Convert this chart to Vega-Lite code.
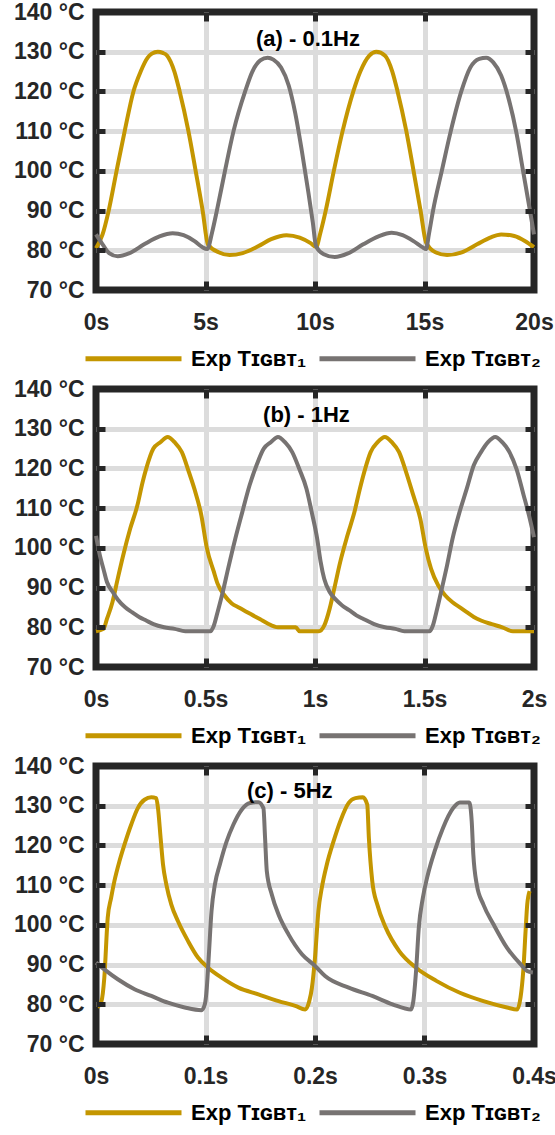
{
  "$schema": "https://vega.github.io/schema/vega-lite/v6.json",
  "background": "white",
  "padding": {"left": 9, "right": 4, "top": -3, "bottom": 0},
  "spacing": 0,
  "resolve": {"scale": {"color": "independent", "x": "independent", "y": "independent"}, "legend": {"color": "independent"}},
  "config": {
    "font": "Liberation Sans",
    "view": {"stroke": "#262626", "strokeWidth": 7},
    "axis": {"title": null, "domain": false, "labelFont": "Liberation Sans", "labelFontSize": 23, "labelFontWeight": "bold", "labelColor": "#262626", "tickColor": "#262626", "tickWidth": 5, "tickSize": 9, "offset": -9, "labelPadding": 12, "gridColor": "#DCDCDC", "gridWidth": 5, "gridOpacity": 1, "labelFlush": false, "labelOverlap": false},
    "axisX": {"labelPadding": 21},
    "legend": {"orient": "bottom", "direction": "horizontal", "title": null, "symbolType": "M-2.3,0H7.3", "symbolSize": 400, "symbolStrokeWidth": 5, "labelFont": "Liberation Sans", "labelFontSize": 22, "labelFontWeight": "bold", "labelColor": "black", "labelOffset": 70, "columnPadding": 2, "offset": 12, "labelLimit": 400, "padding": 0}
  },
  "datasets": {
    "a": [
      {"t":0,"T":80.5,"s":"1"},{"t":0.3,"T":84,"s":"1"},{"t":0.58,"T":90,"s":"1"},{"t":0.94,"T":100,"s":"1"},{"t":1.31,"T":110,"s":"1"},{"t":1.71,"T":120,"s":"1"},{"t":2.04,"T":125,"s":"1"},{"t":2.36,"T":128.5,"s":"1"},{"t":2.55,"T":129.5,"s":"1"},{"t":2.82,"T":130,"s":"1"},{"t":3.05,"T":129.7,"s":"1"},{"t":3.25,"T":129,"s":"1"},{"t":3.58,"T":125,"s":"1"},{"t":3.82,"T":120,"s":"1"},{"t":4.22,"T":110,"s":"1"},{"t":4.55,"T":100,"s":"1"},{"t":4.87,"T":90,"s":"1"},{"t":5.11,"T":81.5,"s":"1"},{"t":5.6,"T":79.5,"s":"1"},{"t":6.1,"T":78.8,"s":"1"},{"t":6.7,"T":79.3,"s":"1"},{"t":7.4,"T":81,"s":"1"},{"t":8.0,"T":82.8,"s":"1"},{"t":8.7,"T":83.8,"s":"1"},{"t":9.3,"T":83.2,"s":"1"},{"t":9.8,"T":81.8,"s":"1"},{"t":10.05,"T":80.8,"s":"1"},{"t":10.25,"T":84.5,"s":"1"},{"t":10.49,"T":90,"s":"1"},{"t":10.86,"T":100,"s":"1"},{"t":11.26,"T":110,"s":"1"},{"t":11.75,"T":120,"s":"1"},{"t":12.07,"T":125,"s":"1"},{"t":12.48,"T":129,"s":"1"},{"t":12.8,"T":130,"s":"1"},{"t":13.2,"T":129,"s":"1"},{"t":13.53,"T":125,"s":"1"},{"t":13.77,"T":120,"s":"1"},{"t":14.17,"T":110,"s":"1"},{"t":14.5,"T":100,"s":"1"},{"t":14.82,"T":90,"s":"1"},{"t":15.07,"T":82,"s":"1"},{"t":15.5,"T":79.5,"s":"1"},{"t":16.03,"T":78.8,"s":"1"},{"t":16.7,"T":79.5,"s":"1"},{"t":17.4,"T":81.5,"s":"1"},{"t":18.0,"T":83.2,"s":"1"},{"t":18.5,"T":84,"s":"1"},{"t":19.1,"T":83.6,"s":"1"},{"t":19.6,"T":82.3,"s":"1"},{"t":20,"T":80.8,"s":"1"},
      {"t":0,"T":84,"s":"2"},{"t":0.3,"T":81.5,"s":"2"},{"t":0.6,"T":79.3,"s":"2"},{"t":0.99,"T":78.5,"s":"2"},{"t":1.5,"T":79.2,"s":"2"},{"t":2.2,"T":81.5,"s":"2"},{"t":2.9,"T":83.5,"s":"2"},{"t":3.5,"T":84.3,"s":"2"},{"t":4.0,"T":83.8,"s":"2"},{"t":4.5,"T":82.3,"s":"2"},{"t":4.85,"T":80.8,"s":"2"},{"t":5.08,"T":80.3,"s":"2"},{"t":5.3,"T":84.5,"s":"2"},{"t":5.52,"T":90,"s":"2"},{"t":5.89,"T":100,"s":"2"},{"t":6.28,"T":110,"s":"2"},{"t":6.81,"T":120,"s":"2"},{"t":7.14,"T":125,"s":"2"},{"t":7.5,"T":127.8,"s":"2"},{"t":7.84,"T":128.5,"s":"2"},{"t":8.1,"T":128,"s":"2"},{"t":8.45,"T":126,"s":"2"},{"t":8.8,"T":121.5,"s":"2"},{"t":9.1,"T":114.5,"s":"2"},{"t":9.4,"T":105,"s":"2"},{"t":9.7,"T":94.5,"s":"2"},{"t":9.9,"T":87,"s":"2"},{"t":10.05,"T":81,"s":"2"},{"t":10.4,"T":79,"s":"2"},{"t":10.9,"T":78.3,"s":"2"},{"t":11.5,"T":79.2,"s":"2"},{"t":12.2,"T":81.5,"s":"2"},{"t":12.9,"T":83.5,"s":"2"},{"t":13.5,"T":84.4,"s":"2"},{"t":14.0,"T":83.8,"s":"2"},{"t":14.5,"T":82.3,"s":"2"},{"t":14.9,"T":80.8,"s":"2"},{"t":15.07,"T":80.3,"s":"2"},{"t":15.2,"T":84,"s":"2"},{"t":15.39,"T":90,"s":"2"},{"t":15.79,"T":100,"s":"2"},{"t":16.2,"T":110,"s":"2"},{"t":16.68,"T":120,"s":"2"},{"t":17.09,"T":126,"s":"2"},{"t":17.5,"T":128.2,"s":"2"},{"t":17.82,"T":128.5,"s":"2"},{"t":18.14,"T":127.3,"s":"2"},{"t":18.5,"T":124,"s":"2"},{"t":18.85,"T":118,"s":"2"},{"t":19.2,"T":109.5,"s":"2"},{"t":19.5,"T":100,"s":"2"},{"t":19.8,"T":90.5,"s":"2"},{"t":20,"T":84,"s":"2"}
    ],
    "b": [
      {"t":0,"T":79,"s":"1"},{"t":0.034,"T":79.6,"s":"1"},{"t":0.05,"T":82.1,"s":"1"},{"t":0.075,"T":86.3,"s":"1"},{"t":0.099,"T":92.2,"s":"1"},{"t":0.124,"T":98.1,"s":"1"},{"t":0.156,"T":104.8,"s":"1"},{"t":0.189,"T":110.7,"s":"1"},{"t":0.213,"T":116.6,"s":"1"},{"t":0.229,"T":119.9,"s":"1"},{"t":0.262,"T":125,"s":"1"},{"t":0.294,"T":126.6,"s":"1"},{"t":0.327,"T":127.9,"s":"1"},{"t":0.359,"T":126.6,"s":"1"},{"t":0.392,"T":124.1,"s":"1"},{"t":0.424,"T":119.1,"s":"1"},{"t":0.449,"T":114.9,"s":"1"},{"t":0.481,"T":108.2,"s":"1"},{"t":0.506,"T":100,"s":"1"},{"t":0.538,"T":94,"s":"1"},{"t":0.555,"T":91,"s":"1"},{"t":0.587,"T":88,"s":"1"},{"t":0.62,"T":86,"s":"1"},{"t":0.652,"T":85,"s":"1"},{"t":0.684,"T":84,"s":"1"},{"t":0.717,"T":83,"s":"1"},{"t":0.75,"T":82,"s":"1"},{"t":0.782,"T":81,"s":"1"},{"t":0.831,"T":80,"s":"1"},{"t":0.912,"T":80,"s":"1"},{"t":0.93,"T":79,"s":"1"},{"t":1.018,"T":79,"s":"1"},{"t":1.042,"T":80.4,"s":"1"},{"t":1.067,"T":84.7,"s":"1"},{"t":1.091,"T":90.5,"s":"1"},{"t":1.115,"T":96.4,"s":"1"},{"t":1.148,"T":103.1,"s":"1"},{"t":1.18,"T":109,"s":"1"},{"t":1.205,"T":114.9,"s":"1"},{"t":1.229,"T":119.9,"s":"1"},{"t":1.254,"T":124.1,"s":"1"},{"t":1.286,"T":126.6,"s":"1"},{"t":1.319,"T":127.9,"s":"1"},{"t":1.351,"T":126.6,"s":"1"},{"t":1.384,"T":124.1,"s":"1"},{"t":1.416,"T":119.1,"s":"1"},{"t":1.449,"T":113.2,"s":"1"},{"t":1.481,"T":107.3,"s":"1"},{"t":1.506,"T":99.8,"s":"1"},{"t":1.53,"T":94.7,"s":"1"},{"t":1.563,"T":90.5,"s":"1"},{"t":1.595,"T":88,"s":"1"},{"t":1.628,"T":86.3,"s":"1"},{"t":1.66,"T":85.1,"s":"1"},{"t":1.693,"T":83.8,"s":"1"},{"t":1.725,"T":82.6,"s":"1"},{"t":1.758,"T":81.7,"s":"1"},{"t":1.807,"T":80.8,"s":"1"},{"t":1.855,"T":80,"s":"1"},{"t":1.904,"T":79,"s":"1"},{"t":2.0,"T":79,"s":"1"},
      {"t":0,"T":103,"s":"2"},{"t":0.018,"T":98,"s":"2"},{"t":0.034,"T":94.7,"s":"2"},{"t":0.05,"T":91.4,"s":"2"},{"t":0.075,"T":89,"s":"2"},{"t":0.099,"T":87,"s":"2"},{"t":0.132,"T":85.1,"s":"2"},{"t":0.164,"T":83.8,"s":"2"},{"t":0.197,"T":82.6,"s":"2"},{"t":0.229,"T":81.7,"s":"2"},{"t":0.262,"T":80.8,"s":"2"},{"t":0.311,"T":80,"s":"2"},{"t":0.359,"T":79.6,"s":"2"},{"t":0.408,"T":79,"s":"2"},{"t":0.522,"T":79,"s":"2"},{"t":0.538,"T":80.4,"s":"2"},{"t":0.555,"T":83.8,"s":"2"},{"t":0.579,"T":88.9,"s":"2"},{"t":0.603,"T":94.7,"s":"2"},{"t":0.636,"T":102.3,"s":"2"},{"t":0.668,"T":109,"s":"2"},{"t":0.701,"T":115.7,"s":"2"},{"t":0.733,"T":120.8,"s":"2"},{"t":0.766,"T":125,"s":"2"},{"t":0.798,"T":126.6,"s":"2"},{"t":0.831,"T":127.9,"s":"2"},{"t":0.863,"T":126.6,"s":"2"},{"t":0.896,"T":124.1,"s":"2"},{"t":0.928,"T":119.9,"s":"2"},{"t":0.961,"T":114.9,"s":"2"},{"t":0.985,"T":109,"s":"2"},{"t":1.01,"T":102.3,"s":"2"},{"t":1.026,"T":96.4,"s":"2"},{"t":1.042,"T":92.2,"s":"2"},{"t":1.067,"T":88.9,"s":"2"},{"t":1.091,"T":87.2,"s":"2"},{"t":1.124,"T":85.5,"s":"2"},{"t":1.156,"T":84.3,"s":"2"},{"t":1.189,"T":83,"s":"2"},{"t":1.221,"T":82.1,"s":"2"},{"t":1.27,"T":80.8,"s":"2"},{"t":1.319,"T":80,"s":"2"},{"t":1.367,"T":79.6,"s":"2"},{"t":1.408,"T":79,"s":"2"},{"t":1.522,"T":79,"s":"2"},{"t":1.538,"T":80.4,"s":"2"},{"t":1.554,"T":83.8,"s":"2"},{"t":1.579,"T":89.7,"s":"2"},{"t":1.603,"T":95.6,"s":"2"},{"t":1.628,"T":102.3,"s":"2"},{"t":1.66,"T":109,"s":"2"},{"t":1.693,"T":114.9,"s":"2"},{"t":1.725,"T":120.8,"s":"2"},{"t":1.758,"T":124.1,"s":"2"},{"t":1.79,"T":126.6,"s":"2"},{"t":1.823,"T":127.9,"s":"2"},{"t":1.855,"T":126.6,"s":"2"},{"t":1.888,"T":124.1,"s":"2"},{"t":1.92,"T":119.9,"s":"2"},{"t":1.953,"T":113.2,"s":"2"},{"t":1.977,"T":108.2,"s":"2"},{"t":2.0,"T":102.7,"s":"2"}
    ],
    "c": [
      {"t":0.0015,"T":79.3,"s":"1"},{"t":0.005,"T":80.8,"s":"1"},{"t":0.0076,"T":86.7,"s":"1"},{"t":0.0107,"T":101.8,"s":"1"},{"t":0.0138,"T":106.8,"s":"1"},{"t":0.0168,"T":111,"s":"1"},{"t":0.0214,"T":116,"s":"1"},{"t":0.026,"T":120.2,"s":"1"},{"t":0.0321,"T":125.2,"s":"1"},{"t":0.0382,"T":129.4,"s":"1"},{"t":0.0443,"T":131.5,"s":"1"},{"t":0.0505,"T":132.1,"s":"1"},{"t":0.055,"T":131.9,"s":"1"},{"t":0.0566,"T":129.4,"s":"1"},{"t":0.059,"T":121.9,"s":"1"},{"t":0.0612,"T":115.2,"s":"1"},{"t":0.0642,"T":110.2,"s":"1"},{"t":0.0688,"T":105.1,"s":"1"},{"t":0.0749,"T":100.9,"s":"1"},{"t":0.0841,"T":95.9,"s":"1"},{"t":0.0933,"T":91.7,"s":"1"},{"t":0.1024,"T":89.2,"s":"1"},{"t":0.1147,"T":86.7,"s":"1"},{"t":0.13,"T":84.2,"s":"1"},{"t":0.1483,"T":82.5,"s":"1"},{"t":0.1667,"T":80.8,"s":"1"},{"t":0.182,"T":79.6,"s":"1"},{"t":0.1911,"T":78.7,"s":"1"},{"t":0.1948,"T":80.8,"s":"1"},{"t":0.1972,"T":84.2,"s":"1"},{"t":0.2,"T":91.7,"s":"1"},{"t":0.2031,"T":103.5,"s":"1"},{"t":0.2062,"T":109.3,"s":"1"},{"t":0.2108,"T":115.2,"s":"1"},{"t":0.2169,"T":121,"s":"1"},{"t":0.2231,"T":126.1,"s":"1"},{"t":0.2308,"T":130.7,"s":"1"},{"t":0.2369,"T":131.9,"s":"1"},{"t":0.2437,"T":132.1,"s":"1"},{"t":0.2477,"T":130.3,"s":"1"},{"t":0.2492,"T":121.9,"s":"1"},{"t":0.2523,"T":111,"s":"1"},{"t":0.2569,"T":105.1,"s":"1"},{"t":0.2646,"T":99.3,"s":"1"},{"t":0.2769,"T":93.4,"s":"1"},{"t":0.2923,"T":89.2,"s":"1"},{"t":0.3108,"T":85.9,"s":"1"},{"t":0.3323,"T":82.9,"s":"1"},{"t":0.3538,"T":80.8,"s":"1"},{"t":0.3754,"T":79.2,"s":"1"},{"t":0.3846,"T":78.7,"s":"1"},{"t":0.3877,"T":81.7,"s":"1"},{"t":0.3902,"T":88.4,"s":"1"},{"t":0.3923,"T":98.4,"s":"1"},{"t":0.3938,"T":105.1,"s":"1"},{"t":0.396,"T":108.5,"s":"1"},
      {"t":0,"T":90.5,"s":"2"},{"t":0.0076,"T":88.8,"s":"2"},{"t":0.0199,"T":86.3,"s":"2"},{"t":0.0352,"T":83.8,"s":"2"},{"t":0.0505,"T":82.1,"s":"2"},{"t":0.0657,"T":80.4,"s":"2"},{"t":0.081,"T":79.2,"s":"2"},{"t":0.0963,"T":78.5,"s":"2"},{"t":0.0994,"T":80,"s":"2"},{"t":0.1012,"T":84.2,"s":"2"},{"t":0.1031,"T":92.6,"s":"2"},{"t":0.1055,"T":103.5,"s":"2"},{"t":0.1086,"T":110.2,"s":"2"},{"t":0.1131,"T":115.2,"s":"2"},{"t":0.1193,"T":121,"s":"2"},{"t":0.1254,"T":125.2,"s":"2"},{"t":0.133,"T":129,"s":"2"},{"t":0.1407,"T":130.7,"s":"2"},{"t":0.1483,"T":130.9,"s":"2"},{"t":0.1529,"T":129.4,"s":"2"},{"t":0.1544,"T":121.9,"s":"2"},{"t":0.156,"T":113.5,"s":"2"},{"t":0.1606,"T":107.6,"s":"2"},{"t":0.1667,"T":102.6,"s":"2"},{"t":0.1758,"T":97.6,"s":"2"},{"t":0.1881,"T":92.6,"s":"2"},{"t":0.2003,"T":89.6,"s":"2"},{"t":0.2092,"T":87.1,"s":"2"},{"t":0.2308,"T":84.2,"s":"2"},{"t":0.2523,"T":82.1,"s":"2"},{"t":0.2708,"T":80,"s":"2"},{"t":0.2877,"T":78.7,"s":"2"},{"t":0.2898,"T":80.8,"s":"2"},{"t":0.2923,"T":88.4,"s":"2"},{"t":0.2948,"T":99.3,"s":"2"},{"t":0.2985,"T":106.8,"s":"2"},{"t":0.3031,"T":112.7,"s":"2"},{"t":0.3092,"T":118.5,"s":"2"},{"t":0.3169,"T":124.4,"s":"2"},{"t":0.3262,"T":129.4,"s":"2"},{"t":0.3323,"T":130.8,"s":"2"},{"t":0.3409,"T":130.8,"s":"2"},{"t":0.3431,"T":126.1,"s":"2"},{"t":0.3446,"T":117.7,"s":"2"},{"t":0.3477,"T":110.2,"s":"2"},{"t":0.3538,"T":105.1,"s":"2"},{"t":0.3631,"T":100.1,"s":"2"},{"t":0.3754,"T":94.2,"s":"2"},{"t":0.3877,"T":90.1,"s":"2"},{"t":0.3938,"T":88.4,"s":"2"},{"t":0.399,"T":88,"s":"2"}
    ]
  },
  "vconcat": [
    {
      "width": 438, "height": 278,
      "layer": [
        {
          "data": {"name": "a"},
          "mark": {"type": "line", "strokeWidth": 4, "interpolate": "monotone"},
          "encoding": {
            "x": {"field": "t", "type": "quantitative", "scale": {"domain": [0, 20], "nice": false, "zero": false}, "axis": {"orient": "bottom", "values": [0, 5, 10, 15, 20], "labelExpr": "datum.value + 's'", "grid": false, "zindex": 1}},
            "y": {"field": "T", "type": "quantitative", "scale": {"domain": [70, 140], "nice": false, "zero": false}, "axis": {"orient": "left", "values": [70, 80, 90, 100, 110, 120, 130, 140], "labelExpr": "datum.value + ' °C'", "grid": false, "zindex": 1}},
            "color": {"field": "s", "type": "nominal", "scale": {"domain": ["1", "2"], "range": ["#C49600", "#777372"]}, "legend": {"labelExpr": "datum.label == '1' ? 'Exp Tɪɢʙᴛ₁' : 'Exp Tɪɢʙᴛ₂'"}}
          }
        },
        {
          "data": {"values": [{}]},
          "mark": {"type": "text", "font": "Liberation Sans", "fontSize": 22, "fontWeight": "bold", "color": "black", "align": "center", "baseline": "middle"},
          "encoding": {
            "x": {"datum": 9.68, "type": "quantitative", "axis": {"orient": "top", "values": [5, 10, 15], "labels": false, "ticks": false, "offset": 0, "grid": true, "zindex": 0}},
            "y": {"datum": 133.2, "type": "quantitative", "axis": {"orient": "right", "values": [80, 90, 100, 110, 120, 130], "labels": false, "ticks": false, "offset": 0, "grid": true, "zindex": 0}},
            "text": {"value": "(a) - 0.1Hz"}
          }
        },
        {
          "data": {"values": [{}]},
          "mark": {"type": "text", "fontSize": 1},
          "encoding": {
            "x": {"datum": 10, "type": "quantitative", "axis": {"orient": "top", "values": [5, 10, 15], "labels": false, "grid": false, "zindex": 1}},
            "y": {"datum": 100, "type": "quantitative", "axis": {"orient": "right", "values": [80, 90, 100, 110, 120, 130], "labels": false, "grid": false, "zindex": 1}},
            "text": {"value": ""}
          }
        }
      ],
      "resolve": {"axis": {"x": "independent", "y": "independent"}}
    },
    {
      "width": 438, "height": 278,
      "layer": [
        {
          "data": {"name": "b"},
          "mark": {"type": "line", "strokeWidth": 4, "interpolate": "monotone"},
          "encoding": {
            "x": {"field": "t", "type": "quantitative", "scale": {"domain": [0, 2], "nice": false, "zero": false}, "axis": {"orient": "bottom", "values": [0, 0.5, 1, 1.5, 2], "labelExpr": "datum.value + 's'", "grid": false, "zindex": 1}},
            "y": {"field": "T", "type": "quantitative", "scale": {"domain": [70, 140], "nice": false, "zero": false}, "axis": {"orient": "left", "values": [70, 80, 90, 100, 110, 120, 130, 140], "labelExpr": "datum.value + ' °C'", "grid": false, "zindex": 1}},
            "color": {"field": "s", "type": "nominal", "scale": {"domain": ["1", "2"], "range": ["#C49600", "#777372"]}, "legend": {"labelExpr": "datum.label == '1' ? 'Exp Tɪɢʙᴛ₁' : 'Exp Tɪɢʙᴛ₂'"}}
          }
        },
        {
          "data": {"values": [{}]},
          "mark": {"type": "text", "font": "Liberation Sans", "fontSize": 22, "fontWeight": "bold", "color": "black", "align": "center", "baseline": "middle"},
          "encoding": {
            "x": {"datum": 0.961, "type": "quantitative", "axis": {"orient": "top", "values": [0.5, 1, 1.5], "labels": false, "ticks": false, "offset": 0, "grid": true, "zindex": 0}},
            "y": {"datum": 133.4, "type": "quantitative", "axis": {"orient": "right", "values": [80, 90, 100, 110, 120, 130], "labels": false, "ticks": false, "offset": 0, "grid": true, "zindex": 0}},
            "text": {"value": "(b) - 1Hz"}
          }
        },
        {
          "data": {"values": [{}]},
          "mark": {"type": "text", "fontSize": 1},
          "encoding": {
            "x": {"datum": 1, "type": "quantitative", "axis": {"orient": "top", "values": [0.5, 1, 1.5], "labels": false, "grid": false, "zindex": 1}},
            "y": {"datum": 100, "type": "quantitative", "axis": {"orient": "right", "values": [80, 90, 100, 110, 120, 130], "labels": false, "grid": false, "zindex": 1}},
            "text": {"value": ""}
          }
        }
      ],
      "resolve": {"axis": {"x": "independent", "y": "independent"}}
    },
    {
      "width": 438, "height": 278,
      "layer": [
        {
          "data": {"name": "c"},
          "mark": {"type": "line", "strokeWidth": 4, "interpolate": "monotone"},
          "encoding": {
            "x": {"field": "t", "type": "quantitative", "scale": {"domain": [0, 0.4], "nice": false, "zero": false}, "axis": {"orient": "bottom", "values": [0, 0.1, 0.2, 0.3, 0.4], "labelExpr": "datum.value + 's'", "grid": false, "zindex": 1}},
            "y": {"field": "T", "type": "quantitative", "scale": {"domain": [70, 140], "nice": false, "zero": false}, "axis": {"orient": "left", "values": [70, 80, 90, 100, 110, 120, 130, 140], "labelExpr": "datum.value + ' °C'", "grid": false, "zindex": 1}},
            "color": {"field": "s", "type": "nominal", "scale": {"domain": ["1", "2"], "range": ["#C49600", "#777372"]}, "legend": {"labelExpr": "datum.label == '1' ? 'Exp Tɪɢʙᴛ₁' : 'Exp Tɪɢʙᴛ₂'"}}
          }
        },
        {
          "data": {"values": [{}]},
          "mark": {"type": "text", "font": "Liberation Sans", "fontSize": 22, "fontWeight": "bold", "color": "black", "align": "center", "baseline": "middle"},
          "encoding": {
            "x": {"datum": 0.177, "type": "quantitative", "axis": {"orient": "top", "values": [0.1, 0.2, 0.3], "labels": false, "ticks": false, "offset": 0, "grid": true, "zindex": 0}},
            "y": {"datum": 133.6, "type": "quantitative", "axis": {"orient": "right", "values": [80, 90, 100, 110, 120, 130], "labels": false, "ticks": false, "offset": 0, "grid": true, "zindex": 0}},
            "text": {"value": "(c) - 5Hz"}
          }
        },
        {
          "data": {"values": [{}]},
          "mark": {"type": "text", "fontSize": 1},
          "encoding": {
            "x": {"datum": 0.2, "type": "quantitative", "axis": {"orient": "top", "values": [0.1, 0.2, 0.3], "labels": false, "grid": false, "zindex": 1}},
            "y": {"datum": 100, "type": "quantitative", "axis": {"orient": "right", "values": [80, 90, 100, 110, 120, 130], "labels": false, "grid": false, "zindex": 1}},
            "text": {"value": ""}
          }
        }
      ],
      "resolve": {"axis": {"x": "independent", "y": "independent"}}
    }
  ]
}
